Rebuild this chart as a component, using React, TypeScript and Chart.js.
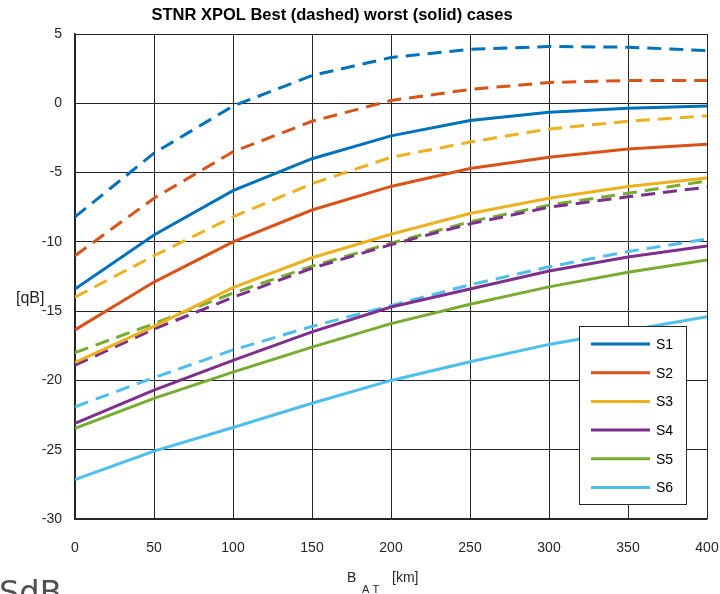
import React, { useEffect, useRef } from "react";
import { Chart, registerables } from "chart.js";

Chart.register(...registerables);

// ---------- data ----------
const distancesKm = [0, 50, 100, 150, 200, 250, 300, 350, 400];
const seriesNames = ["S1", "S2", "S3", "S4", "S5", "S6"];
const seriesColors = ["#0072BD", "#D95319", "#EDB120", "#7E2F8E", "#77AC30", "#4DBEEE"];

// worst cases (solid)
const s1Worst = [-13.4, -9.5, -6.3, -4.0, -2.35, -1.25, -0.65, -0.35, -0.2];
const s2Worst = [-16.35, -12.9, -10.0, -7.7, -6.0, -4.7, -3.9, -3.3, -2.95];
const s3Worst = [-18.7, -16.1, -13.3, -11.15, -9.45, -7.95, -6.85, -6.0, -5.4];
const s4Worst = [-23.1, -20.7, -18.55, -16.5, -14.7, -13.4, -12.1, -11.1, -10.3];
const s5Worst = [-23.45, -21.3, -19.4, -17.6, -15.9, -14.5, -13.25, -12.2, -11.3];
const s6Worst = [-27.15, -25.1, -23.4, -21.65, -20.0, -18.65, -17.4, -16.4, -15.4];

// best cases (dashed)
const s1Best = [-8.2, -3.6, -0.2, 2.0, 3.3, 3.9, 4.1, 4.05, 3.8];
const s2Best = [-11.0, -6.85, -3.5, -1.3, 0.2, 1.0, 1.5, 1.65, 1.65];
const s3Best = [-14.0, -11.0, -8.2, -5.8, -3.9, -2.8, -1.85, -1.3, -0.9];
const s4Best = [-18.9, -16.3, -14.0, -11.9, -10.2, -8.7, -7.5, -6.75, -6.05];
const s5Best = [-18.0, -15.9, -13.7, -11.75, -10.1, -8.55, -7.35, -6.5, -5.6];
const s6Best = [-21.9, -19.8, -17.8, -16.1, -14.6, -13.1, -11.8, -10.7, -9.8];

const worstSeries = [s1Worst, s2Worst, s3Worst, s4Worst, s5Worst, s6Worst];
const bestSeries = [s1Best, s2Best, s3Best, s4Best, s5Best, s6Best];

const xMin = 0;
const xMax = 400;
const xStep = 50;
const yMin = -30;
const yMax = 5;
const yStep = 5;

const titleText = "STNR XPOL Best (dashed) worst (solid) cases";
const yLabelText = "[qB]";
const xLabelMain = "B";
const xLabelSub = "A T";
const xLabelUnit = "[km]";
const cornerText = "SdB";

const FONT = "'Liberation Sans', Arial, sans-serif";
const AXIS_COLOR = "#262626";

const toPoints = (vals: number[]) => vals.map((v, i) => ({ x: distancesKm[i], y: v }));

const decorPlugin = {
  id: "decor",
  afterDatasetsDraw(chart: any) {
    const { ctx, chartArea } = chart;
    ctx.save();
    // legend
    const boxRight = chartArea.right - 20;
    const boxBottom = chartArea.bottom - 14;
    const boxW = 108;
    const boxH = 179;
    const bx = boxRight - boxW;
    const by = boxBottom - boxH;
    ctx.fillStyle = "#ffffff";
    ctx.fillRect(bx, by, boxW, boxH);
    ctx.strokeStyle = AXIS_COLOR;
    ctx.lineWidth = 1;
    ctx.strokeRect(bx + 0.5, by + 0.5, boxW - 1, boxH - 1);
    ctx.font = `14px ${FONT}`;
    ctx.textAlign = "left";
    ctx.textBaseline = "middle";
    seriesNames.forEach((name, i) => {
      const ry = by + 18 + i * 28.7;
      ctx.strokeStyle = seriesColors[i];
      ctx.lineWidth = 3;
      ctx.setLineDash([]);
      ctx.beginPath();
      ctx.moveTo(bx + 12, ry);
      ctx.lineTo(bx + 71, ry);
      ctx.stroke();
      ctx.fillStyle = "#000000";
      ctx.fillText(name, bx + 77, ry + 1);
    });
    ctx.restore();
  },
  afterDraw(chart: any) {
    const { ctx } = chart;
    ctx.save();
    // title
    ctx.fillStyle = "#000000";
    ctx.font = `bold 16.5px ${FONT}`;
    ctx.textAlign = "center";
    ctx.textBaseline = "middle";
    ctx.fillText(titleText, 332, 15);
    // y label
    ctx.fillStyle = AXIS_COLOR;
    ctx.font = `16px ${FONT}`;
    ctx.textAlign = "left";
    ctx.fillText(yLabelText, 16, 299);
    // x label
    ctx.font = `14px ${FONT}`;
    ctx.fillText(xLabelMain, 347, 578);
    ctx.font = `11px ${FONT}`;
    ctx.fillText(xLabelSub, 362, 590);
    ctx.font = `14px ${FONT}`;
    ctx.fillText(xLabelUnit, 392, 578);
    // corner text
    ctx.fillStyle = "#505050";
    ctx.font = `32px 'DejaVu Sans', sans-serif`;
    ctx.textBaseline = "alphabetic";
    ctx.fillText(cornerText, -1, 603);
    ctx.restore();
  },
};

export default function App() {
  const canvasRef = useRef<HTMLCanvasElement | null>(null);

  useEffect(() => {
    if (!canvasRef.current) return;
    const datasets: any[] = [];
    seriesNames.forEach((name, i) => {
      datasets.push({
        label: name + " worst",
        data: toPoints(worstSeries[i]),
        borderColor: seriesColors[i],
        backgroundColor: seriesColors[i],
        borderWidth: 3,
        pointRadius: 0,
        tension: 0,
        fill: false,
      });
      datasets.push({
        label: name + " best",
        data: toPoints(bestSeries[i]),
        borderColor: seriesColors[i],
        backgroundColor: seriesColors[i],
        borderWidth: 3,
        borderDash: [14, 8],
        pointRadius: 0,
        tension: 0,
        fill: false,
      });
    });

    const chart = new Chart(canvasRef.current, {
      type: "line",
      data: { datasets },
      options: {
        animation: false,
        responsive: false,
        parsing: false as any,
        layout: { padding: { left: 0, top: 34, right: 13, bottom: 0 } },
        plugins: {
          legend: { display: false },
          title: { display: false },
          tooltip: { enabled: false },
        },
        scales: {
          x: {
            type: "linear",
            min: xMin,
            max: xMax,
            ticks: {
              stepSize: xStep,
              color: AXIS_COLOR,
              font: { family: FONT, size: 14 },
              padding: 21,
              maxRotation: 0,
            },
            grid: { color: AXIS_COLOR, lineWidth: 1, drawTicks: false },
            border: { color: AXIS_COLOR, width: 1.5 },
            afterFit: (scale: any) => {
              scale.height = 75;
              scale.paddingLeft = 0;
              scale.paddingRight = 0;
            },
          },
          y: {
            type: "linear",
            min: yMin,
            max: yMax,
            ticks: {
              stepSize: yStep,
              color: AXIS_COLOR,
              font: { family: FONT, size: 14 },
              padding: 13,
            },
            grid: { color: AXIS_COLOR, lineWidth: 1, drawTicks: false },
            border: { color: AXIS_COLOR, width: 1.5 },
            afterFit: (scale: any) => {
              scale.width = 75;
              scale.paddingTop = 0;
              scale.paddingBottom = 0;
            },
          },
        },
      },
      plugins: [decorPlugin],
    });
    return () => chart.destroy();
  }, []);

  return (
    <div style={{ position: "fixed", left: 0, top: 0, width: 720, height: 594, background: "#ffffff", overflow: "hidden" }}>
      <canvas ref={canvasRef} width={720} height={594} style={{ display: "block" }} />
    </div>
  );
}
